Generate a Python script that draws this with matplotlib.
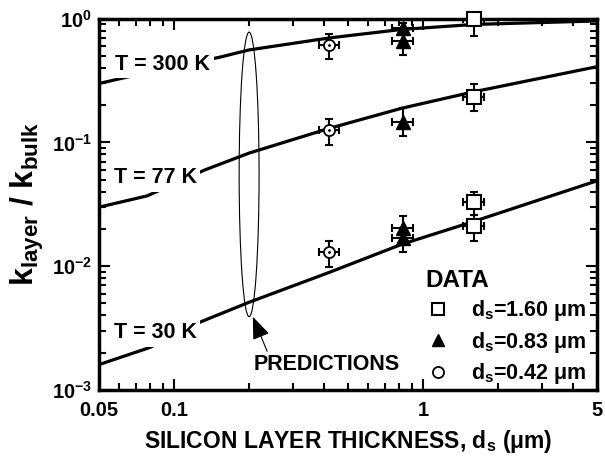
import numpy as np
import matplotlib
matplotlib.use("Agg")
import matplotlib.pyplot as plt
import matplotlib.ticker as mticker
from matplotlib.patches import Ellipse

plt.rcParams.update({
    "font.family": "Liberation Sans",
    "font.weight": "bold",
    "mathtext.fontset": "custom",
    "mathtext.rm": "Liberation Sans:bold",
    "mathtext.it": "Liberation Sans:bold",
    "mathtext.bf": "Liberation Sans:bold",
    "mathtext.default": "rm",
    "axes.unicode_minus": False,
})

# ---- model predictions ----
t300_x = [0.05, 0.07, 0.153, 0.2, 0.42, 0.82, 1.6, 5.0]
t300_y = [0.30, 0.35, 0.49, 0.56, 0.70, 0.82, 0.90, 0.96]
t77_x = [0.05, 0.078, 0.133, 0.2, 0.42, 0.82, 1.6, 5.0]
t77_y = [0.030, 0.037, 0.060, 0.082, 0.13, 0.189, 0.257, 0.41]
t30_x = [0.05, 0.08, 0.126, 0.2, 0.42, 0.82, 1.6, 5.0]
t30_y = [0.0016, 0.0022, 0.0035, 0.0051, 0.0089, 0.015, 0.023, 0.049]

# ---- measured data ----
sq_x = [1.6, 1.6, 1.6, 1.6]
sq_y = [1.0, 0.235, 0.033, 0.021]
sq_lo = [0.72, 0.18, 0.026, 0.016]
sq_hi = [1.0, 0.295, 0.040, 0.026]
sq_dx = 0.15

tri_x = [0.83, 0.83, 0.83, 0.83, 0.83]
tri_y = [0.85, 0.66, 0.147, 0.0205, 0.0168]
tri_lo = [0.78, 0.51, 0.112, 0.0165, 0.0131]
tri_hi = [0.92, 0.80, 0.19, 0.0254, 0.0205]
tri_dx = 0.08

circ_x = [0.42, 0.42, 0.42]
circ_y = [0.61, 0.126, 0.0129]
circ_lo = [0.47, 0.096, 0.0098]
circ_hi = [0.76, 0.155, 0.016]
circ_dx = 0.04

curve_labels = ["T = 300 K", "T = 77 K", "T = 30 K"]
label_x = [0.09, 0.084, 0.084]
label_y = [0.43, 0.052, 0.0029]

pred_x, pred_ylo, pred_yhi = 0.2, 0.0039, 0.78

fig = plt.figure(figsize=(6.05, 4.58), dpi=100, facecolor="white")
ax = fig.add_axes([0.164, 0.149, 0.823, 0.81])
ax.set_xscale("log")
ax.set_yscale("log")
ax.set_xlim(0.05, 5)
ax.set_ylim(1e-3, 1)

for xs, ys in [(t300_x, t300_y), (t77_x, t77_y), (t30_x, t30_y)]:
    ax.plot(xs, ys, color="black", lw=2.3, zorder=2, solid_capstyle="butt")

for lab, lx, ly in zip(curve_labels, label_x, label_y):
    ax.text(lx, ly, lab, fontsize=15.5, fontweight="bold", ha="center",
            va="center", zorder=3,
            bbox=dict(facecolor="white", edgecolor="none", pad=2.5))


def _err(y, lo, hi):
    y = np.array(y)
    return [y - np.array(lo), np.array(hi) - y]


ekw = dict(fmt="none", ecolor="black", elinewidth=1.5, capsize=3,
           capthick=1.5, zorder=4)
ax.errorbar(sq_x, sq_y, yerr=_err(sq_y, sq_lo, sq_hi), xerr=sq_dx, **ekw)
ax.errorbar(tri_x, tri_y, yerr=_err(tri_y, tri_lo, tri_hi), xerr=tri_dx, **ekw)
ax.errorbar(circ_x, circ_y, yerr=_err(circ_y, circ_lo, circ_hi), xerr=circ_dx, **ekw)

ax.plot(sq_x, sq_y, "s", ms=9.5, mfc="white", mec="black", mew=1.5, zorder=5,
        clip_on=False)
ax.plot(tri_x, tri_y, "^", ms=9.5, color="black", zorder=5)
ax.plot(circ_x, circ_y, "o", ms=8, mfc="white", mec="black", mew=1.3, zorder=5)
ax.plot(circ_x, circ_y, ".", ms=2, color="black", zorder=6)

# predictions ellipse + arrow
ex = (np.log10(pred_x) - np.log10(0.05)) / 2
ey0 = (np.log10(pred_ylo) + 3) / 3
ey1 = (np.log10(pred_yhi) + 3) / 3
ax.add_patch(Ellipse((ex, (ey0 + ey1) / 2), 0.04, ey1 - ey0,
                     transform=ax.transAxes, fill=False, lw=0.8,
                     edgecolor="black", zorder=3))
ax.annotate("PREDICTIONS", xy=(0.207, pred_ylo), xytext=(0.41, 0.0016),
            fontsize=15.5, fontweight="bold", ha="center", va="center",
            arrowprops=dict(arrowstyle="-|>,head_length=0.9,head_width=0.35",
                            color="black", lw=0.8, shrinkA=0, shrinkB=0,
                            relpos=(0.1, 1.0)))

# legend
h_sq, = ax.plot([], [], "s", ms=9, mfc="white", mec="black", mew=1.5)
h_tri, = ax.plot([], [], "^", ms=9, color="black")
h_circ, = ax.plot([], [], "o", ms=8, mfc="white", mec="black", mew=1.3)
leg = ax.legend([h_sq, h_tri, h_circ],
                [r"d$_s$=1.60 μm", r"d$_s$=0.83 μm", r"d$_s$=0.42 μm"],
                title="DATA", loc="lower right", bbox_to_anchor=(1.0, -0.02),
                frameon=False, fontsize=15.5, title_fontsize=17.5,
                handlelength=1.2, handletextpad=0.9, labelspacing=0.3,
                borderaxespad=0.1)
leg.get_title().set_fontweight("bold")
leg._legend_box.align = "left"

# axes styling
ax.xaxis.set_major_locator(mticker.FixedLocator([0.05, 0.1, 1, 5]))
ax.xaxis.set_major_formatter(mticker.FixedFormatter(["0.05", "0.1", "1", "5"]))
ax.xaxis.set_minor_locator(mticker.LogLocator(base=10, subs=np.arange(2, 10)))
ax.xaxis.set_minor_formatter(mticker.NullFormatter())
ax.yaxis.set_minor_locator(mticker.LogLocator(base=10, subs=np.arange(2, 10)))
ax.yaxis.set_minor_formatter(mticker.NullFormatter())

ax.tick_params(which="both", direction="in", top=True, right=True, width=1.5)
ax.tick_params(which="major", length=8, labelsize=14.5)
ax.tick_params(axis="x", which="major", pad=8)
ax.tick_params(axis="y", which="major", pad=5)
ax.tick_params(which="minor", length=5)
for lab in ax.get_xticklabels() + ax.get_yticklabels():
    lab.set_fontweight("bold")
for s in ax.spines.values():
    s.set_linewidth(2.5)

ax.set_xlabel(r"SILICON LAYER THICKNESS, d$_s$ (μm)", fontsize=16.5,
              fontweight="bold", labelpad=6)
ax.set_ylabel(r"k$_{layer}$ / k$_{bulk}$", fontsize=23, fontweight="bold",
              labelpad=4)

fig.savefig("out.png", dpi=100, facecolor="white")
